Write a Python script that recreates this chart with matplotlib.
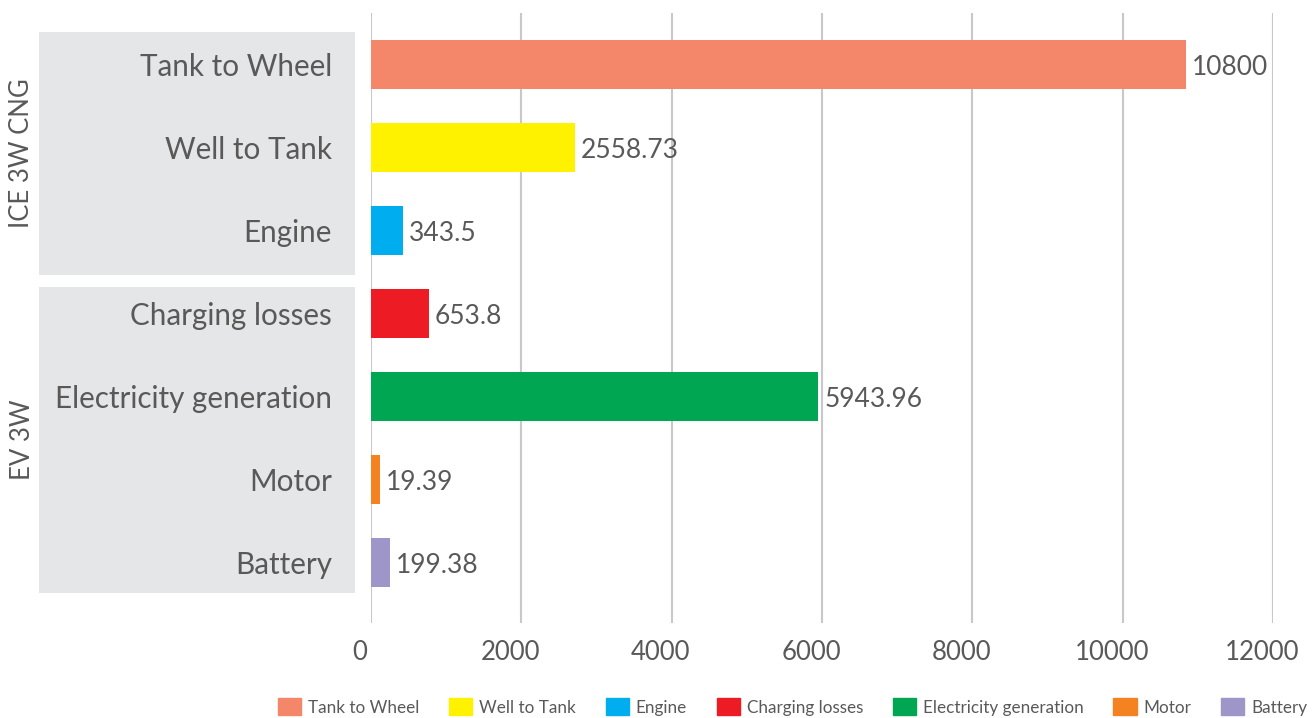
import matplotlib
matplotlib.use("Agg")
import matplotlib.pyplot as plt
import matplotlib.patches as mpatches
import matplotlib.transforms as mtransforms
import numpy as np

plt.rcParams['font.family'] = ['Lato', 'DejaVu Sans']

# Données
categories = ['Tank to Wheel', 'Well to Tank', 'Engine', 'Charging losses',
              'Electricity generation', 'Motor', 'Battery']
groups = ['ICE 3W CNG', 'EV 3W']
# longueurs des barres
bar_values = [10845, 2715, 426, 772, 5948, 120, 253]
# étiquettes de données affichées
value_labels = ['10800', '2558.73', '343.5', '653.8', '5943.96', '19.39', '199.38']
colors = ['#F4866A', '#FFF200', '#00AEEF', '#ED1C24', '#00A651', '#F58220', '#9E96C8']

text_color = '#595959'

fig = plt.figure(figsize=(13.14, 7.18), dpi=100)
fig.patch.set_facecolor('#ffffff')

# Boîtes grises des groupes
for (y0, y1) in [(32, 275), (287, 593)]:
    rect = mpatches.Rectangle((39 / 1314, 1 - y1 / 718), (355 - 39) / 1314, (y1 - y0) / 718,
                              transform=fig.transFigure, facecolor='#E5E6E8',
                              edgecolor='none', zorder=0)
    fig.add_artist(rect)

ax = fig.add_axes([371 / 1314, 1 - 623 / 718, (1273 - 371) / 1314, (623 - 13) / 718])
ax.set_facecolor('none')

y = np.arange(len(categories))
ax.barh(y, bar_values, height=0.59, color=colors, zorder=3)

for yi, val, lab in zip(y, bar_values, value_labels):
    ax.annotate(lab, (val, yi), xytext=(6, -3), textcoords='offset pixels',
                ha='left', va='center', fontsize=19, color=text_color)

ax.set_xlim(0, 12000)
ax.set_ylim(6.729, -0.620)
ax.set_xticks(np.arange(0, 12001, 2000))
ax.set_yticks(y)
ax.set_yticklabels(categories)
ax.tick_params(axis='y', length=0, pad=28, labelsize=21.3, labelcolor=text_color)
ax.tick_params(axis='x', length=0, pad=12, labelsize=18.5, labelcolor=text_color)
shift = mtransforms.ScaledTranslation(-11 / 100, 0, fig.dpi_scale_trans)
for lbl in ax.get_xticklabels():
    lbl.set_transform(lbl.get_transform() + shift)

ax.grid(axis='x', color='#C8C8C8', linewidth=1.5, zorder=0)
for s in ax.spines.values():
    s.set_visible(False)

# Étiquettes des groupes
fig.text(22 / 1314, 1 - 153 / 718, groups[0], rotation=90, ha='center', va='center',
         fontsize=18.5, color=text_color)
fig.text(22 / 1314, 1 - 440 / 718, groups[1], rotation=90, ha='center', va='center',
         fontsize=18.5, color=text_color)

handles = [mpatches.Patch(color=c, label=l) for c, l in zip(colors, categories)]
fig.legend(handles=handles, loc='center left', bbox_to_anchor=(278 / 1314, 1 - 707 / 718),
           ncol=7, frameon=False, fontsize=12.3, labelcolor=text_color,
           handlelength=1.35, handleheight=1.1, handletextpad=0.4,
           columnspacing=1.75, borderpad=0, borderaxespad=0)

fig.savefig('out.png', dpi=100)
